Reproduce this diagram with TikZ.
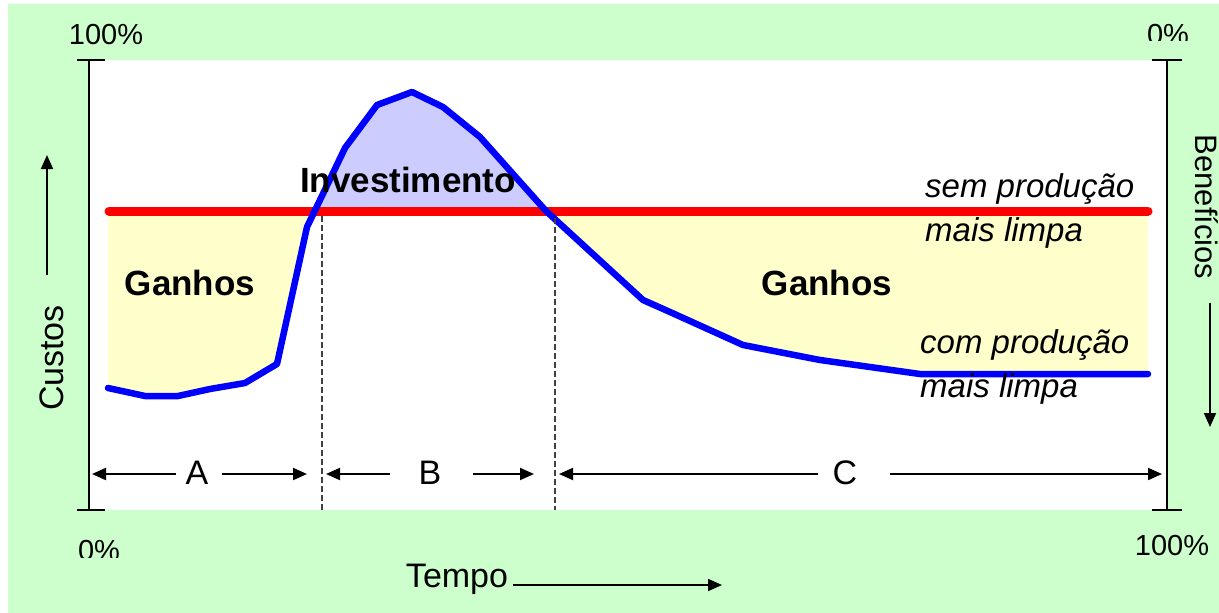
\documentclass[tikz,border=0pt]{standalone}
\usepackage{fontspec}
\setmainfont{Liberation Sans}
\usetikzlibrary{arrows.meta}
\definecolor{bggreen}{HTML}{CCFFCC}
\definecolor{gainyellow}{HTML}{FFFFCC}
\definecolor{investlav}{HTML}{CCCCFF}
\tikzset{
  axisline/.style={line width=2pt, black},
  dimarrow/.style={line width=2pt, -{Triangle[length=14pt,width=12pt]}},
  divider/.style={line width=2pt, draw=black!75, dash pattern=on 6pt off 3pt},
  lbl/.style={font=\fontsize{34}{40}\selectfont, inner sep=0pt},
  bigbold/.style={font=\fontsize{35}{42}\selectfont\bfseries, inner sep=0pt},
  itl/.style={font=\fontsize{33}{40}\selectfont\itshape, inner sep=0pt},
  pct/.style={font=\fontsize{29}{35}\selectfont, inner sep=0pt},
}
\begin{document}
\begin{tikzpicture}[x=1pt,y=-1pt]
\useasboundingbox (0,0) rectangle (1219,613);
\fill[white] (0,0) rectangle (1219,613);
\fill[bggreen] (8,4) rectangle (1219,613);
\fill[white] (89,60) rectangle (1167,510);
% fills
\fill[gainyellow] (108,211) -- (108,388) -- (145,396) -- (178,396) -- (210,389) -- (245,383) -- (277,364) -- (307,227) -- (315,211) -- cycle;
\fill[gainyellow] (546,211) -- (643,300) -- (670,312) -- (743,345) -- (820,360) -- (920,374) -- (1148,374) -- (1148,211) -- cycle;
\fill[investlav] (315,211) -- (320,200) -- (345,148) -- (377,105) -- (412,92) -- (443,107) -- (480,137) -- (546,211) -- cycle;
% red line
\draw[red, line width=9pt, line cap=round] (109,211) -- (1148,211);
% blue curve
\draw[blue, line width=6.5pt, line join=round, line cap=round]
  (108,388) -- (145,396) -- (178,396) -- (210,389) -- (245,383) -- (277,364) -- (307,227) -- (320,200) -- (345,148) -- (377,105) -- (412,92) -- (443,107) -- (480,137) -- (546,211) -- (643,300) -- (670,312) -- (743,345) -- (820,360) -- (920,374) -- (1148,374);
% dashed dividers
\coordinate (d1t) at (322,216); \coordinate (d1b) at (322,510);
\coordinate (d2t) at (555,218); \coordinate (d2b) at (555,510);
\draw[divider] (d1t) -- (d1b);
\draw[divider] (d2t) -- (d2b);
% axes
\draw[axisline] (89,60) -- (89,510);
\draw[axisline] (77,60) -- (105,60);
\draw[axisline] (77,510) -- (105,510);
\draw[axisline] (1167,60) -- (1167,510);
\draw[axisline] (1152,60) -- (1182,60);
\draw[axisline] (1152,510) -- (1182,510);
% percent labels
\node[pct, anchor=base] (p100tl) at (106,45) {100\%};
\node[pct, anchor=base] (p100br) at (1172,555) {100\%};
\begin{scope}
\clip (1130,10) rectangle (1210,40);
\node[pct, anchor=base] (p0tr) at (1168,44) {0\%};
\end{scope}
\begin{scope}
\clip (60,525) rectangle (140,557);
\node[pct, anchor=base] (p0bl) at (99,560) {0\%};
\end{scope}
% A B C dimension arrows
\node[lbl, anchor=base] (lA) at (197,484) {A};
\node[lbl, anchor=base] (lB) at (430,484) {B};
\node[lbl, anchor=base] (lC) at (845,484) {C};
\coordinate (a1) at (92,474); \coordinate (a2) at (176,474);
\coordinate (a3) at (222,474); \coordinate (a4) at (307,474);
\coordinate (b1) at (326,474); \coordinate (b2) at (390,474);
\coordinate (b3) at (473,474); \coordinate (b4) at (534,474);
\coordinate (c1) at (559,474); \coordinate (c2) at (818,474);
\coordinate (c3) at (890,474); \coordinate (c4) at (1162,474);
\draw[dimarrow] (a2) -- (a1);
\draw[dimarrow] (a3) -- (a4);
\draw[dimarrow] (b2) -- (b1);
\draw[dimarrow] (b3) -- (b4);
\draw[dimarrow] (c2) -- (c1);
\draw[dimarrow] (c3) -- (c4);
% region labels
\node[bigbold, anchor=base] (inv) at (408,192) {Investimento};
\node[bigbold, anchor=base] (g1) at (190,295) {Ganhos};
\node[bigbold, anchor=base] (g2) at (827,295) {Ganhos};
\node[itl, anchor=base west] (sem1) at (925,197) {sem produção};
\node[itl, anchor=base west] (sem2) at (925,241) {mais limpa};
\node[itl, anchor=base west] (com1) at (920,353) {com produção};
\node[itl, anchor=base west] (com2) at (920,397) {mais limpa};
% axis titles
\node[lbl, rotate=90, anchor=base] (custos) at (63,358) {Custos};
\coordinate (cu1) at (47,275); \coordinate (cu2) at (47,155);
\draw[dimarrow, line width=1.8pt] (cu1) -- (cu2);
\node[font=\fontsize{31}{37}\selectfont, inner sep=0pt, rotate=-90, anchor=base] (benef) at (1195,207) {Benefícios};
\coordinate (be1) at (1210,303); \coordinate (be2) at (1210,427);
\draw[dimarrow, line width=1.8pt] (be1) -- (be2);
\node[lbl, anchor=base] (tempo) at (457,587) {Tempo};
\coordinate (t1) at (513,585); \coordinate (t2) at (722,585);
\draw[dimarrow, line width=1.8pt] (t1) -- (t2);
\end{tikzpicture}
\end{document}
